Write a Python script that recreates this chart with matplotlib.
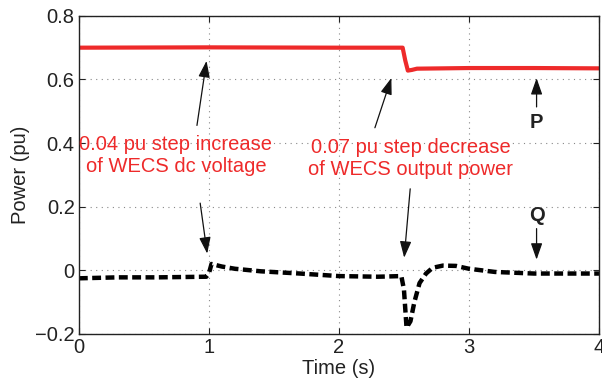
import matplotlib
matplotlib.use('Agg')
import matplotlib.pyplot as plt

# values
t_p = [0.0, 1.0, 2.0, 2.49, 2.51, 2.53, 2.56, 2.6, 3.0, 3.5, 4.0]
p_val = [0.700, 0.701, 0.700, 0.700, 0.660, 0.628, 0.630, 0.634, 0.636, 0.636, 0.635]

t_q = [0.0, 0.3, 0.6, 0.98, 1.0, 1.02, 1.1, 1.2, 1.4, 1.7, 2.0, 2.3, 2.48, 2.5, 2.52,
       2.55, 2.58, 2.62, 2.67, 2.72, 2.8, 2.9, 3.0, 3.2, 3.5, 4.0]
q_val = [-0.025, -0.022, -0.022, -0.02, -0.01, 0.02, 0.012, 0.005, -0.003, -0.01, -0.018,
         -0.02, -0.018, -0.06, -0.18, -0.16, -0.10, -0.04, -0.01, 0.008, 0.015, 0.014,
         0.005, -0.005, -0.01, -0.01]

xticks = [0, 1, 2, 3, 4]
yticks = [-0.2, 0, 0.2, 0.4, 0.6, 0.8]
ytick_labels = ['\u22120.2', '0', '0.2', '0.4', '0.6', '0.8']

red = '#ee2a2a'
ink = '#222222'
fs = 14.5
plt.rcParams['font.family'] = ['Liberation Sans', 'DejaVu Sans']

fig = plt.figure(figsize=(6.02, 3.87), dpi=100)
ax = fig.add_axes([0.131, 0.137, 0.864, 0.822])

ax.plot(t_p, p_val, color=red, linewidth=3)
ax.plot(t_q, q_val, color='black', linewidth=3.2, linestyle=(0, (2.0, 1.0)))

ax.set_xlim(0, 4)
ax.set_ylim(-0.2, 0.8)
ax.set_xticks(xticks)
ax.set_yticks(yticks)
ax.set_yticklabels(ytick_labels)
ax.tick_params(direction='in', top=True, right=True, length=4, labelsize=fs, colors=ink, pad=3)
ax.grid(True, linestyle=(0, (1, 4)), color='#888888', linewidth=0.8)
for s in ax.spines.values():
    s.set_linewidth(1.0)
    s.set_color(ink)

ax.set_xlabel('Time (s)', fontsize=fs, color=ink, labelpad=1)
ax.set_ylabel('Power (pu)', fontsize=fs, color=ink, labelpad=4)

ax.text(0.746, 0.362, '0.04 pu step increase\nof WECS dc voltage', color=red, fontsize=fs,
        ha='center', va='center', linespacing=1.2)
ax.text(2.55, 0.351, '0.07 pu step decrease\nof WECS output power', color=red, fontsize=fs,
        ha='center', va='center', linespacing=1.2)

arr = dict(arrowstyle='-|>,head_length=1.0,head_width=0.35', color='#111111', lw=0.9)
ax.annotate('', xy=(0.985, 0.667), xytext=(0.905, 0.447), arrowprops=arr)
ax.annotate('', xy=(0.99, 0.044), xytext=(0.93, 0.22), arrowprops=arr)
ax.annotate('', xy=(2.41, 0.613), xytext=(2.27, 0.44), arrowprops=arr)
ax.annotate('', xy=(2.5, 0.031), xytext=(2.55, 0.265), arrowprops=arr)
ax.annotate('', xy=(3.52, 0.613), xytext=(3.52, 0.505), arrowprops=arr)
ax.annotate('', xy=(3.52, 0.025), xytext=(3.52, 0.14), arrowprops=arr)
ax.text(3.52, 0.465, 'P', fontsize=fs, fontweight='bold', ha='center', va='center', color=ink)
ax.text(3.52, 0.173, 'Q', fontsize=fs, fontweight='bold', ha='center', va='center', color=ink)

fig.savefig('out.png', dpi=100)
